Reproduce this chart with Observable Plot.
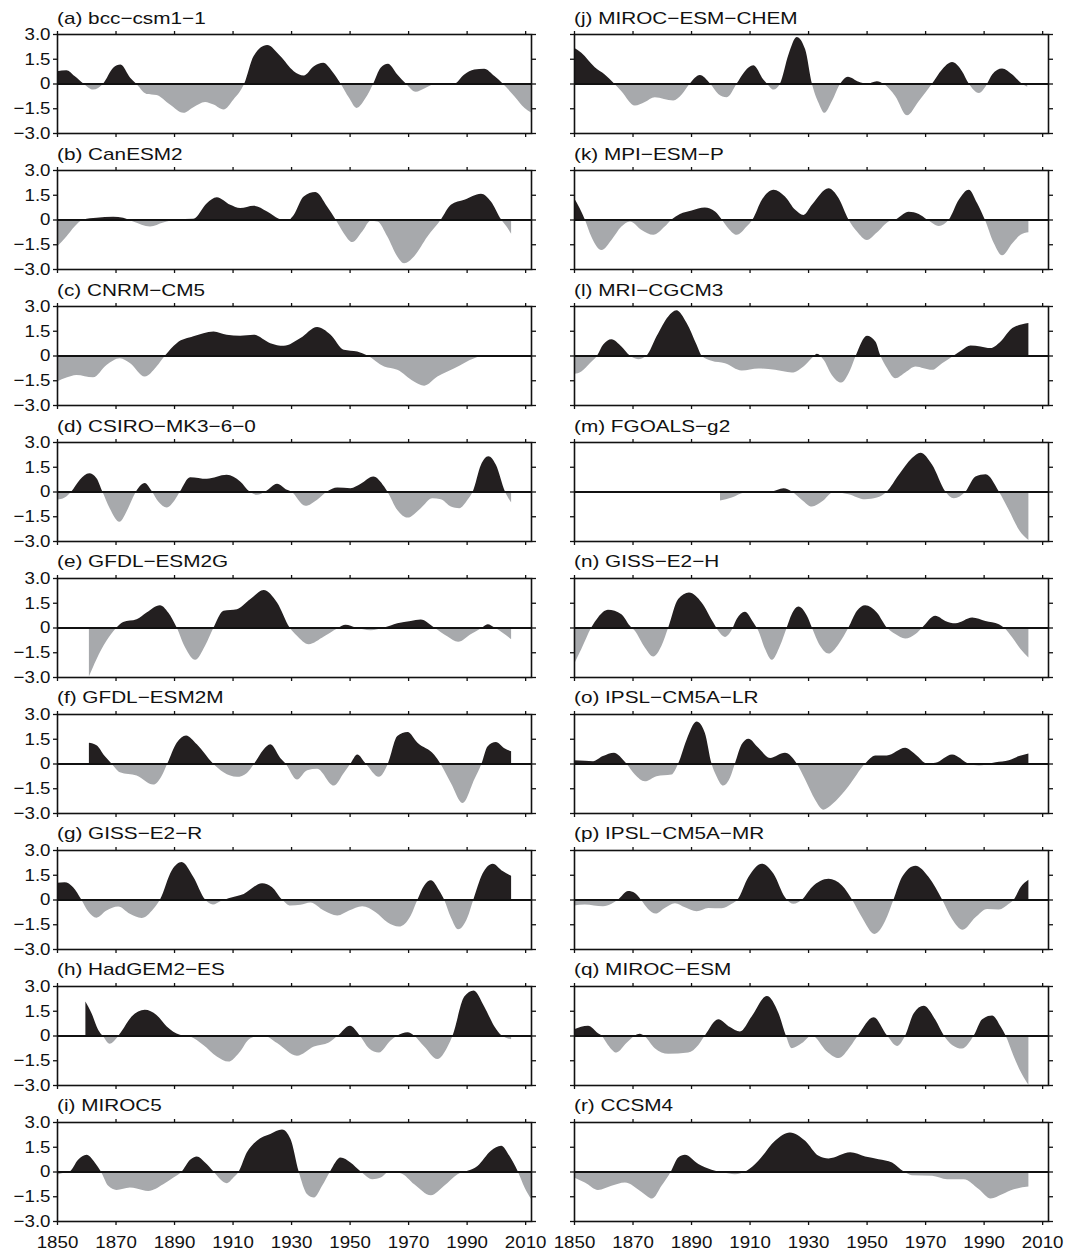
<!DOCTYPE html>
<html>
<head>
<meta charset="utf-8">
<script src="https://cdn.jsdelivr.net/npm/d3@7"></script>
<script src="https://cdn.jsdelivr.net/npm/@observablehq/plot@0.6"></script>
<style>
  body { margin: 0; background: #fff; }
  #root { position: relative; width: 1067px; height: 1250px; background: #fff; overflow: hidden; }
  .ttl { position: absolute; font-family: "Liberation Sans", Arial, Helvetica, sans-serif; font-size: 17px; line-height: 1; color: #111; white-space: nowrap; transform: scaleX(1.22); transform-origin: 0 0; }
  #root svg { position: absolute; }
</style>
</head>
<body>
<div id="root"></div>
<script>
// ---------- data (year, standardized value) ----------
const titles = ["(a) bcc−csm1−1","(b) CanESM2","(c) CNRM−CM5","(d) CSIRO−MK3−6−0","(e) GFDL−ESM2G","(f) GFDL−ESM2M","(g) GISS−E2−R","(h) HadGEM2−ES","(i) MIROC5",
                "(j) MIROC−ESM−CHEM","(k) MPI−ESM−P","(l) MRI−CGCM3","(m) FGOALS−g2","(n) GISS−E2−H","(o) IPSL−CM5A−LR","(p) IPSL−CM5A−MR","(q) MIROC−ESM","(r) CCSM4"];
const xTicks = [1850,1870,1890,1910,1930,1950,1970,1990,2010];
const xDomain = [1850, 2012];
const yTicks = [-3,-1.5,0,1.5,3];
const yTickLabels = ["−3.0","−1.5","0","1.5","3.0"];
const posColor = "#231f20";
const negColor = "#a7a9ac";

const s_a = [[1850,0.75],[1853.2,0.8],[1856,0.45],[1859,0],[1862.3,-0.37],[1865.8,0],[1869.2,0.95],[1871.7,1.15],[1875,0.35],[1877,0],[1880.6,-0.63],[1884,-0.7],[1888.6,-1.28],[1893.2,-1.78],[1896.6,-1.44],[1900.6,-1.12],[1903.5,-1.28],[1906.9,-1.58],[1910.3,-0.97],[1914,0],[1917.2,1.66],[1921.8,2.33],[1926.3,1.66],[1930.9,0.75],[1934.3,0.49],[1937.8,1.05],[1941,1.26],[1944,0.75],[1946.9,0],[1949.8,-0.87],[1952.4,-1.48],[1955.5,-0.87],[1958.1,0],[1960.6,0.95],[1963.1,1.2],[1966.3,0.55],[1969.2,0],[1972.6,-0.5],[1975.5,-0.3],[1978.9,-0.04],[1985.8,0],[1989.2,0.55],[1992.6,0.85],[1996,0.9],[1999.5,0.45],[2002.3,0],[2006.3,-0.77],[2009.8,-1.48],[2012,-1.75]];
const s_b = [[1850,-1.64],[1853.2,-1.03],[1856,-0.42],[1859,0],[1863.5,0.1],[1869.2,0.16],[1872.6,0.1],[1876,-0.12],[1881.8,-0.42],[1886.3,-0.18],[1891,0],[1896.6,0.04],[1901.2,0.99],[1904.6,1.35],[1909.2,0.89],[1912.6,0.69],[1917.2,0.83],[1921.8,0.48],[1925.8,0.04],[1928.6,-0.08],[1930.9,0.28],[1934.3,1.39],[1938.3,1.66],[1942.3,0.79],[1945.2,0],[1948,-0.83],[1950.9,-1.37],[1954.3,-0.73],[1957.2,-0.08],[1959.5,-0.12],[1962.9,-1.03],[1966.3,-2.24],[1968.6,-2.65],[1972,-2.24],[1976.6,-1.03],[1981.2,0],[1984.6,0.89],[1989.2,1.19],[1994.9,1.56],[1998.3,1.09],[2001.8,0],[2004,-0.52],[2005.2,-0.87]];
const s_c = [[1850,-1.58],[1853.2,-1.34],[1856.6,-1.18],[1862.3,-1.32],[1866.9,-0.57],[1871.5,-0.16],[1875,-0.47],[1880,-1.28],[1884,-0.67],[1886.9,0],[1890.9,0.75],[1896.6,1.16],[1903.5,1.46],[1908,1.26],[1912.6,1.2],[1917.2,1.26],[1922.9,0.75],[1927.5,0.59],[1933.2,1.06],[1938.9,1.73],[1943.5,1.26],[1948,0.35],[1952.6,0.24],[1956.1,0],[1961.8,-0.67],[1966.3,-0.87],[1972,-1.58],[1975.5,-1.83],[1980,-1.28],[1985.8,-0.77],[1992.6,-0.16],[1996,0],[2005.2,0]];
const s_d = [[1850,-0.5],[1852.6,-0.37],[1854.9,0],[1857.8,0.71],[1861,1.1],[1863.5,0.81],[1865.5,0],[1868,-1.01],[1871.3,-1.83],[1874.3,-1.01],[1877,0],[1880,0.51],[1882.3,0.04],[1884.6,-0.61],[1887.5,-0.97],[1890.3,-0.5],[1892,0],[1895.5,0.87],[1901.2,0.77],[1908,1.01],[1912.6,0.61],[1915.8,0],[1918.3,-0.2],[1921.2,0],[1925.2,0.47],[1928.6,0.1],[1930,0],[1934.9,-0.87],[1938.9,-0.5],[1942.3,0],[1945.8,0.24],[1950.3,0.2],[1953.8,0.47],[1958.1,0.91],[1961.8,0.3],[1962.9,0],[1966.3,-1.12],[1969.8,-1.58],[1974.3,-1.01],[1978.3,-0.41],[1981.2,-0.47],[1984.6,-0.91],[1987.5,-1.01],[1990.3,-0.5],[1992.1,0],[1994.9,1.62],[1997.4,2.13],[2000,1.62],[2003.1,0],[2005.2,-0.67]];
const s_e = [[1860.9,-2.97],[1863.5,-1.92],[1866.9,-0.81],[1870.1,-0.04],[1872.6,0.34],[1877.2,0.5],[1880.6,0.91],[1885.2,1.35],[1888,0.91],[1890.9,0],[1893.8,-1.21],[1897.2,-1.96],[1900.6,-1.11],[1903.5,0],[1906.9,1.01],[1911.5,1.11],[1916.1,1.72],[1920.6,2.28],[1925.2,1.52],[1929.5,0],[1932,-0.5],[1936,-1.01],[1941.2,-0.55],[1945.8,-0.06],[1948.6,0.16],[1952.1,0],[1957.2,-0.16],[1961.8,0],[1966.3,0.26],[1970.9,0.4],[1974.3,0.48],[1978.9,0],[1983.5,-0.55],[1987.1,-0.87],[1991.5,-0.4],[1994.9,-0.04],[1997.2,0.2],[1999.5,0],[2005.2,-0.71]];
const s_f = [[1860.9,1.26],[1863.5,1.1],[1866.3,0.45],[1868.6,0],[1871.5,-0.53],[1877.2,-0.73],[1882.9,-1.28],[1885.7,-0.77],[1887.7,0],[1890.9,1.26],[1894.1,1.7],[1897.8,1.16],[1903.3,0],[1906.9,-0.53],[1911.5,-0.81],[1914.9,-0.57],[1917.4,0],[1920.6,0.85],[1922.9,1.16],[1926.3,0.34],[1928.1,0],[1932,-0.97],[1935.5,-0.41],[1938.9,-0.32],[1944.6,-1.34],[1948,-0.57],[1950.3,0],[1952.6,0.55],[1955.5,0],[1960,-0.81],[1963.1,0],[1966.3,1.66],[1969.8,1.91],[1973.2,1.26],[1978.9,0.53],[1981,0],[1984.6,-1.18],[1988.6,-2.39],[1992.6,-0.97],[1995.1,0],[1997.2,1.05],[2000,1.3],[2002.9,0.93],[2005.2,0.75]];
const s_g = [[1850,1.01],[1852.6,1.05],[1855.5,0.75],[1858.3,0],[1860.6,-0.71],[1863.5,-1.1],[1866.9,-0.67],[1870.9,-0.43],[1874.9,-0.87],[1878.9,-1.12],[1882.9,-0.57],[1885.2,0],[1889.2,1.76],[1892.6,2.27],[1896.6,1.36],[1900.6,0],[1903.3,-0.3],[1905.8,-0.1],[1908.6,0.08],[1913.8,0.34],[1920.1,0.99],[1923.5,0.75],[1926.9,0],[1929.8,-0.37],[1933.2,-0.32],[1936.6,-0.18],[1941.2,-0.67],[1945.8,-0.97],[1949.8,-0.67],[1954.3,-0.41],[1958.9,-0.77],[1962.9,-1.38],[1966.9,-1.64],[1970.9,-0.97],[1973.2,0],[1975.5,0.85],[1977.8,1.16],[1980.6,0.55],[1982.3,0],[1984.6,-1.08],[1987.1,-1.81],[1990.3,-1.08],[1992.3,0],[1995.4,1.56],[1998.9,2.17],[2002.3,1.72],[2005.2,1.44]];
const s_h = [[1859.7,2.06],[1861.8,1.35],[1864.1,0.34],[1865.8,-0.06],[1868,-0.5],[1870.3,-0.16],[1872,0.24],[1875.5,1.15],[1880,1.56],[1884,1.25],[1887.5,0.55],[1892,0.04],[1895.5,-0.06],[1900,-0.57],[1904.6,-1.27],[1908.6,-1.58],[1912.1,-1.07],[1916.1,-0.16],[1920.6,0],[1925.2,-0.46],[1932,-1.23],[1937.8,-0.67],[1942.9,-0.42],[1946,0],[1950.1,0.59],[1953.5,0],[1956.6,-0.77],[1960,-1.03],[1964,-0.3],[1966.3,0],[1969.8,0.2],[1972,0],[1975.5,-0.67],[1980,-1.43],[1983.5,-0.67],[1985.2,0],[1989.2,2.36],[1992.4,2.73],[1996,1.76],[1999.5,0.55],[2002,0],[2005.2,-0.22]];
const s_i = [[1850,-0.2],[1852.6,-0.06],[1854.3,0],[1857.2,0.71],[1860.1,1.01],[1862.9,0.55],[1865,0],[1867.5,-0.87],[1870.3,-1.12],[1874.9,-0.97],[1877.2,-1.03],[1881.2,-1.18],[1886.3,-0.77],[1889.8,-0.37],[1892.6,0],[1895.5,0.71],[1897.8,0.91],[1900.6,0.55],[1903.5,0],[1905.8,-0.47],[1908,-0.71],[1910.3,-0.37],[1912.1,0],[1914.9,1.16],[1918.3,1.87],[1922.9,2.27],[1926.9,2.54],[1929.8,1.97],[1932.6,0],[1935.5,-1.38],[1937.8,-1.58],[1940.6,-0.87],[1943.3,0],[1946.9,0.85],[1950.3,0.55],[1953.8,0],[1957.8,-0.47],[1960.6,-0.37],[1963.5,-0.02],[1967.5,-0.1],[1972.1,-0.77],[1977.8,-1.44],[1982.3,-0.87],[1986.9,-0.16],[1990.3,0.04],[1993.7,0.34],[1998.3,1.26],[2001.8,1.56],[2004.6,0.95],[2007.5,0],[2009.8,-0.97],[2012,-1.65]];
const s_j = [[1850,2.17],[1852.5,1.87],[1857.1,0.99],[1860.5,0.55],[1863.7,0],[1866.2,-0.47],[1870.8,-1.34],[1874.2,-1.12],[1877.6,-0.83],[1883.9,-1.03],[1886.8,-0.67],[1889.6,0],[1893,0.51],[1896.5,0],[1899.3,-0.63],[1902.2,-0.83],[1905.6,0],[1908.4,0.75],[1911.3,1.1],[1914.7,0.24],[1915.9,0],[1918.2,-0.37],[1920.4,0],[1923.3,1.76],[1926.1,2.82],[1929,2.07],[1931.3,0],[1933.6,-1.18],[1935.6,-1.78],[1938.1,-1.08],[1941,0],[1943.6,0.41],[1947.3,0.1],[1950.1,-0.02],[1953.5,0.14],[1955.8,-0.02],[1959.8,-0.77],[1963.8,-1.93],[1967.8,-1.08],[1972.4,0],[1975.8,0.85],[1979.2,1.3],[1982.6,0.75],[1984.9,0],[1988.4,-0.57],[1990.9,-0.1],[1992.9,0.55],[1996.3,0.91],[1999.8,0.55],[2003,0],[2004.9,-0.2]];
const s_k = [[1850,1.3],[1851.9,0.69],[1853.7,0],[1855.9,-1.03],[1859.4,-1.85],[1862.8,-1.24],[1866.2,-0.43],[1869.1,-0.12],[1873.1,-0.63],[1877.1,-0.93],[1881,-0.43],[1883.3,0],[1886.2,0.34],[1890.2,0.55],[1894.7,0.73],[1898.2,0.49],[1900.5,0],[1902.7,-0.53],[1905.6,-0.93],[1909,-0.43],[1911,0],[1914.2,1.2],[1918.2,1.81],[1922.1,1.4],[1925.6,0.59],[1928.4,0.28],[1931.3,0.89],[1937,1.89],[1940.4,1.3],[1943.8,0],[1946.7,-0.73],[1950.1,-1.24],[1953.5,-0.79],[1957.5,-0.12],[1959.8,0],[1964.4,0.47],[1967.8,0.34],[1970.7,0],[1974.7,-0.39],[1978.1,0],[1981.5,1.2],[1984.9,1.81],[1987.8,0.99],[1990.4,0],[1993.5,-1.44],[1996.3,-2.17],[1999.8,-1.44],[2002.6,-0.93],[2005.3,-0.77]];
const s_l = [[1850,-1.12],[1852.5,-0.97],[1855.4,-0.47],[1857.9,0],[1859.9,0.65],[1862.8,0.99],[1866.2,0.55],[1869.1,0],[1871.9,-0.22],[1874.8,0],[1878.2,1.16],[1882.2,2.37],[1885,2.74],[1888.5,1.97],[1891.9,0.65],[1893.6,0],[1897,-0.32],[1901.6,-0.47],[1907.3,-0.91],[1913,-0.79],[1918.7,-0.87],[1924.4,-1.03],[1929,-0.57],[1931.8,-0.06],[1933,0.1],[1935.3,-0.26],[1938.1,-1.18],[1941.3,-1.64],[1944.4,-0.87],[1946.3,0],[1950.1,1.2],[1953,0.85],[1954.7,0],[1957,-0.77],[1959.8,-1.38],[1963.2,-1.03],[1966.7,-0.67],[1969.5,-0.77],[1972.4,-0.87],[1975.8,-0.47],[1979.8,0],[1982.6,0.34],[1985.5,0.61],[1988.9,0.55],[1992.3,0.45],[1995.8,0.85],[1999.8,1.66],[2005.3,1.97]];
const s_m = [[1899.9,-0.55],[1903.9,-0.37],[1908.4,-0.06],[1913,-0.04],[1917.6,0],[1921.6,0.2],[1924.4,0],[1927.9,-0.51],[1931.3,-0.91],[1934.7,-0.61],[1938.7,-0.04],[1943.8,-0.16],[1949.5,-0.47],[1953.5,-0.37],[1956.9,0],[1961,1.01],[1965.5,2.03],[1968.4,2.35],[1972.4,1.62],[1976.9,0],[1979.8,-0.41],[1983.8,0],[1987.2,0.91],[1990.7,1.05],[1995.2,0],[1998.6,-1.12],[2002.1,-2.33],[2005.3,-2.94]];
const s_n = [[1850,-2.22],[1852.5,-1.31],[1855.9,0],[1858.2,0.61],[1861.6,1.07],[1866.2,0.81],[1869.1,0.1],[1870.8,-0.2],[1874.2,-1.21],[1877.1,-1.76],[1879.9,-1.11],[1882.2,0],[1885.6,1.72],[1889.3,2.12],[1893.6,1.52],[1897.6,0.3],[1899.3,-0.2],[1901.6,-0.57],[1903.9,-0.14],[1905.6,0.51],[1908.4,0.95],[1911.3,0.3],[1913,-0.2],[1915.3,-1.31],[1917.6,-1.96],[1920.4,-1.11],[1922.7,0],[1924.4,0.81],[1926.7,1.27],[1929.6,0.71],[1931.3,0],[1934.1,-1.11],[1937,-1.58],[1940.4,-1.01],[1943.8,0],[1946.7,1.01],[1949.5,1.35],[1953.5,0.91],[1956.9,0],[1959.8,-0.4],[1963.2,-0.67],[1966.7,-0.4],[1969,0],[1973.5,0.71],[1976.9,0.4],[1980.4,0.26],[1986.1,0.61],[1990.6,0.4],[1995.2,0.2],[1996.9,0],[1999.8,-0.61],[2002.6,-1.31],[2005.3,-1.82]];
const s_o = [[1850,0.2],[1853.7,0.16],[1856.5,0.14],[1859.9,0.45],[1863.7,0.65],[1866.2,0.34],[1867.9,0],[1870.8,-0.67],[1874.2,-1.08],[1878.2,-0.77],[1883.3,-0.67],[1885.6,0],[1888.5,1.46],[1891.9,2.54],[1894.7,1.87],[1897,0],[1898.7,-0.77],[1901,-1.34],[1903.3,-0.87],[1905,0],[1907.3,1.16],[1909.6,1.5],[1913,0.95],[1917,0.34],[1922.1,0.65],[1926.1,0],[1929,-0.97],[1932.4,-2.19],[1935.3,-2.8],[1938.1,-2.49],[1943.8,-1.38],[1949.5,0],[1953,0.49],[1956.9,0.49],[1963.2,0.95],[1966.7,0.55],[1970.7,0],[1973.5,0.04],[1979.2,0.55],[1984.9,0],[1988.4,-0.12],[1994.1,0.08],[1998.6,0.2],[2002.1,0.45],[2005.3,0.61]];
const s_p = [[1850,-0.37],[1853.7,-0.3],[1859.9,-0.41],[1862.8,-0.26],[1865.1,0],[1868.5,0.51],[1870.8,0.39],[1872.8,0],[1875.3,-0.57],[1877.9,-0.85],[1881,-0.51],[1884.5,-0.22],[1887.9,-0.47],[1891.9,-0.71],[1895.9,-0.51],[1900.5,-0.53],[1903.9,-0.26],[1905.9,0],[1909.6,1.36],[1914.2,2.17],[1918.2,1.56],[1922.1,0.14],[1925,-0.26],[1927.9,0],[1931.3,0.75],[1937,1.26],[1941.6,0.85],[1945,0],[1948.4,-1.08],[1952.7,-2.09],[1956.4,-1.28],[1959.2,0],[1962.1,1.36],[1966.7,2.05],[1971.2,1.36],[1975.8,0],[1979.2,-1.18],[1982.8,-1.83],[1987.2,-1.08],[1991.2,-0.57],[1995.2,-0.61],[1998.6,-0.26],[2000.3,0],[2002.6,0.75],[2005.3,1.2]];
const s_q = [[1850,0.38],[1854.8,0.59],[1858.2,0.14],[1859.4,0],[1861.6,-0.57],[1864.5,-1.03],[1867.9,-0.46],[1870.8,0],[1872.5,0.1],[1874.2,-0.06],[1877.6,-0.77],[1882.2,-1.11],[1889,-1.03],[1892.5,-0.57],[1894.7,0],[1899.3,0.99],[1903.3,0.51],[1906.7,0.24],[1910.7,1.15],[1915.9,2.4],[1919.9,1.35],[1922.4,0],[1924.4,-0.77],[1927.9,-0.46],[1931.3,0],[1936.4,-0.97],[1940.4,-1.37],[1944.4,-0.67],[1947,0],[1952.4,1.11],[1957,0],[1960.4,-0.63],[1963.2,0],[1966.1,1.35],[1969.5,1.8],[1973.5,0.95],[1976.4,0],[1979.2,-0.57],[1982.6,-0.79],[1986.6,0],[1989.5,0.99],[1992.9,1.21],[1995.8,0.55],[1997.5,0],[2000.3,-1.27],[2003.2,-2.38],[2005.3,-2.99]];
const s_r = [[1850,-0.37],[1853.7,-0.67],[1858.2,-1.12],[1862.8,-0.87],[1867.4,-0.67],[1873.1,-1.24],[1876.7,-1.64],[1879.9,-0.87],[1883.1,0],[1885.6,0.85],[1887.9,1.01],[1892.5,0.45],[1897,0.1],[1901,-0.06],[1905,-0.16],[1909,0.04],[1913,0.65],[1918.7,1.87],[1923.8,2.37],[1929,1.87],[1933.6,0.95],[1937,0.79],[1944.4,1.16],[1949.5,0.91],[1954.1,0.75],[1958.7,0.55],[1962.7,0],[1965.5,-0.22],[1972.4,-0.26],[1977.5,-0.47],[1983.2,-0.47],[1988.4,-1.08],[1992.4,-1.64],[1996.3,-1.38],[2000.3,-1.08],[2005.3,-0.91]];

const series = [s_a,s_b,s_c,s_d,s_e,s_f,s_g,s_h,s_i,s_j,s_k,s_l,s_m,s_n,s_o,s_p,s_q,s_r];

// ---------- layout ----------
const FONT = '"Liberation Sans", Arial, Helvetica, sans-serif';
const root = document.getElementById("root");
const frameH = 99, rowStep = 135.9, firstTop = 34.3;
const mL = 57, mR = 12, frameW = 474, mT = 8;
const colLeft = [0.3, 517.3];

function stretchText(svg, label, sx) {
  svg.querySelectorAll(`g[aria-label="${label}"] text`).forEach(t => {
    const tr = t.getAttribute("transform");
    if (tr) t.setAttribute("transform", tr + ` scale(${sx},1)`);
  });
}

series.forEach((data, k) => {
  const col = k < 9 ? 0 : 1, row = k % 9;
  const isBottom = row === 8, isLeft = col === 0;
  const mB = isBottom ? 28 : 8;
  const frameTop = firstTop + row * rowStep;
  const W = mL + frameW + mR, H = mT + frameH + mB;

  const chart = Plot.plot({
    width: W, height: H,
    marginLeft: mL, marginRight: mR, marginTop: mT, marginBottom: mB,
    style: {background: "none", overflow: "visible", fontFamily: FONT, fontSize: "17px", color: "#111"},
    x: {domain: xDomain, axis: null},
    y: {domain: [-3, 3], axis: null},
    marks: [
      Plot.areaY(data, {x: d => d[0], y: d => d[1], fill: posColor, curve: "monotone-x"}),
      Plot.areaY(data, {x: d => d[0], y: d => d[1], fill: negColor, curve: "monotone-x"}),
      Plot.ruleY([0], {stroke: "#111", strokeWidth: 2.2}),
      Plot.frame({stroke: "#111", strokeWidth: 1.6}),
      Plot.axisY({anchor: "left", ticks: yTicks, tickSize: 4, tickPadding: 3, strokeWidth: 1.3, label: null,
                  fontSize: 17,
                  tickFormat: d => isLeft ? yTickLabels[yTicks.indexOf(d)] : ""}),
      Plot.axisY({anchor: "right", ticks: yTicks, tickSize: 4, strokeWidth: 1.3, label: null, tickFormat: () => ""}),
      Plot.axisX({anchor: "top", ticks: xTicks, tickSize: 4, strokeWidth: 1.3, label: null, tickFormat: () => ""}),
      Plot.axisX({anchor: "bottom", ticks: xTicks, tickSize: 4, tickPadding: 10, strokeWidth: 1.3, label: null,
                  fontSize: 17,
                  tickFormat: d => isBottom ? String(d) : ""})
    ]
  });

  // split the filled curve into the positive (black) and negative (grey) parts
  const ys = chart.scale("y");
  const y0 = ys.apply(0);
  const yTop = ys.apply(3), yBot = ys.apply(-3);
  const svg = d3.select(chart);
  const defs = svg.insert("defs", ":first-child");
  defs.append("clipPath").attr("id", "pos" + k).append("rect")
    .attr("x", 0).attr("y", yTop - 4).attr("width", W).attr("height", y0 - yTop + 4);
  defs.append("clipPath").attr("id", "neg" + k).append("rect")
    .attr("x", 0).attr("y", y0).attr("width", W).attr("height", yBot - y0 + 4);
  const areas = chart.querySelectorAll('g[aria-label="area"]');
  areas[0].setAttribute("clip-path", `url(#pos${k})`);
  areas[1].setAttribute("clip-path", `url(#neg${k})`);

  stretchText(chart, "y-axis tick label", 1.1);
  stretchText(chart, "x-axis tick label", 1.1);

  chart.style.left = colLeft[col] + "px";
  chart.style.top = (frameTop - mT) + "px";
  root.appendChild(chart);

  const ttl = document.createElement("div");
  ttl.className = "ttl";
  ttl.textContent = titles[k];
  ttl.style.left = (colLeft[col] + mL) + "px";
  ttl.style.top = (frameTop - 24.5) + "px";
  root.appendChild(ttl);
});
</script>
</body>
</html>
